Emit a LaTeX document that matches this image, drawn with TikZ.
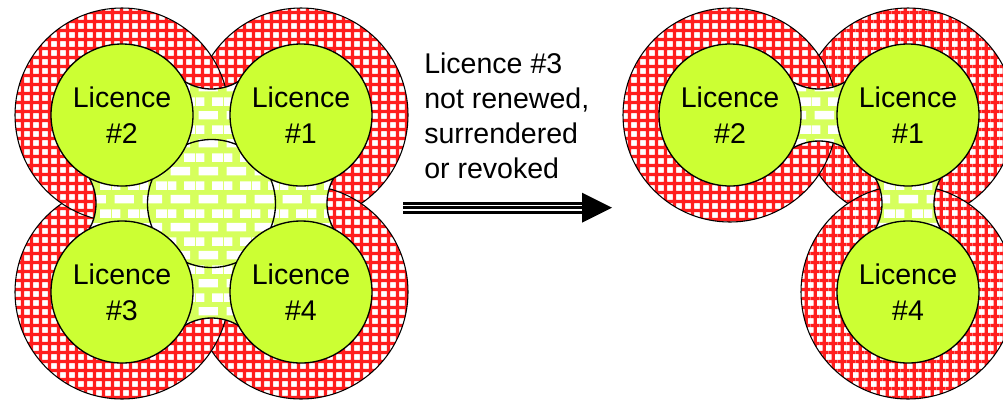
\documentclass[tikz,border=0pt]{standalone}
\usepackage{fontspec}
\setmainfont{Liberation Sans}
\usetikzlibrary{patterns,calc}

% red grid used for the outer rings
\pgfdeclarepatternformonly{licgrid}{\pgfpointorigin}{\pgfpoint{7pt}{7pt}}{\pgfpoint{7pt}{7pt}}{%
  \pgfsetlinewidth{2.6pt}%
  \pgfpathmoveto{\pgfpoint{0pt}{3.5pt}}\pgfpathlineto{\pgfpoint{7pt}{3.5pt}}%
  \pgfpathmoveto{\pgfpoint{3.5pt}{0pt}}\pgfpathlineto{\pgfpoint{3.5pt}{7pt}}%
  \pgfusepath{stroke}}

% staggered bricks used for the shared areas
\pgfdeclarepatternformonly{licbricks}{\pgfpointorigin}{\pgfpoint{21pt}{21pt}}{\pgfpoint{21pt}{21pt}}{%
  \pgfpathrectangle{\pgfpoint{2pt}{2pt}}{\pgfpoint{15pt}{6.5pt}}%
  \pgfpathrectangle{\pgfpoint{12.5pt}{12.5pt}}{\pgfpoint{8.5pt}{6.5pt}}%
  \pgfpathrectangle{\pgfpoint{0pt}{12.5pt}}{\pgfpoint{6.5pt}{6.5pt}}%
  \pgfusepath{fill}}

\definecolor{licgreen}{RGB}{204,255,51}
\definecolor{licred}{RGB}{255,30,30}
\definecolor{brickbg}{RGB}{214,255,92}

\tikzset{
  ring/.style={circle, draw=black, line width=0.8pt, inner sep=0pt,
    minimum size=160.5pt, preaction={fill=white}, pattern=licgrid,
    pattern color=licred},
  ball/.style={circle, draw=black, line width=1pt, fill=licgreen,
    inner sep=0pt, minimum size=106.5pt, align=center,
    font=\fontsize{21.4pt}{27pt}\selectfont},
  bricks/.style={draw=black, line width=1pt, preaction={fill=brickbg},
    pattern=licbricks, pattern color=white},
  notetext/.style={anchor=base west, align=left, inner sep=0pt,
    font=\fontsize{21.4pt}{26.25pt}\selectfont},
}

\begin{document}
\begin{tikzpicture}[x=0.75pt,y=-0.75pt]
\useasboundingbox (0,0) rectangle (1003,401);
\clip (0,0) rectangle (1003,401);

% ---------- four licences ----------
\node[ring] (r1) at (301,115) {};
\node[ring] (r4) at (301,292) {};
\node[ring] (r3) at (122,292) {};
\node[ring] (r2) at (122,115) {};

\coordinate (ct) at (211.5,37);
\coordinate (cr) at (379,203.5);
\coordinate (cb) at (211.5,370);
\coordinate (cl) at (44,203.5);
\draw[bricks] ($(ct)+(145:52)$) arc[start angle=145,end angle=35,radius=52]
  -- ($(cr)+(235:52)$) arc[start angle=235,end angle=125,radius=52]
  -- ($(cb)+(325:52)$) arc[start angle=325,end angle=215,radius=52]
  -- ($(cl)+(55:52)$) arc[start angle=55,end angle=-55,radius=52] -- cycle;
\node[bricks, circle, inner sep=0pt, minimum size=96pt] (hub) at (211.5,203.5) {};

\node[ball] (g2) at (122,115) {Licence\\\#2};
\node[ball] (g1) at (301,115) {Licence\\\#1};
\node[ball] (g3) at (122,292) {Licence\\\#3};
\node[ball] (g4) at (301,292) {Licence\\\#4};

% ---------- note and arrow ----------
\node[notetext] (note) at (424,178.3) {Licence \#3\\not renewed,\\surrendered\\or revoked};

\coordinate (arrS) at (403,207.7);
\coordinate (arrB) at (584,207.7);
\coordinate (arrE) at (612,207.7);
\draw[line width=8.8pt] (arrS) -- (arrB);
\draw[white, line width=4.8pt] (arrS) -- (arrB);
\draw[line width=2.25pt] (arrS) -- (arrB);
\fill ($(arrE)+(-30,-15)$) -- (arrE) -- ($(arrE)+(-30,15)$) -- cycle;

% ---------- three licences ----------
\node[ring] (s1) at (908,115) {};
\node[ring] (s4) at (908,292) {};
\node[ring] (s2) at (730,115) {};

\coordinate (ht) at (819,37);
\coordinate (hb) at (819,193);
\draw[bricks] ($(ht)+(145:52)$) arc[start angle=145,end angle=35,radius=52]
  -- ($(hb)+(-35:52)$) arc[start angle=-35,end angle=-145,radius=52] -- cycle;
\coordinate (vl) at (830,203.5);
\coordinate (vr) at (986,203.5);
\draw[bricks] ($(vl)+(-55:52)$) arc[start angle=-55,end angle=55,radius=52]
  -- ($(vr)+(125:52)$) arc[start angle=125,end angle=235,radius=52] -- cycle;

\node[ball] (h2) at (730,115) {Licence\\\#2};
\node[ball] (h1) at (908,115) {Licence\\\#1};
\node[ball] (h4) at (908,292) {Licence\\\#4};
\end{tikzpicture}
\end{document}
